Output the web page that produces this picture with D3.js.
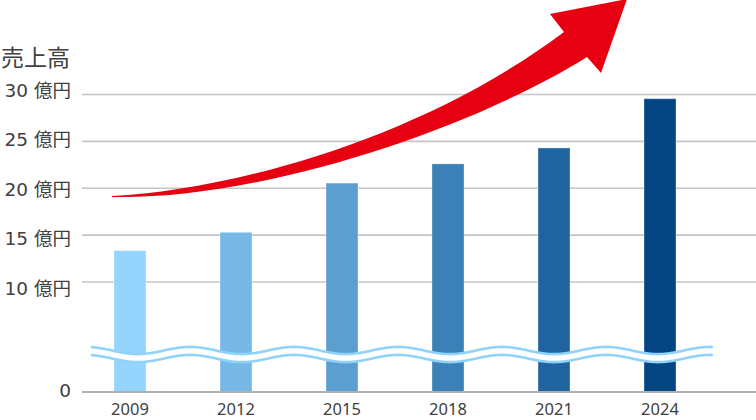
<!DOCTYPE html>
<html><head><meta charset="utf-8">
<script src="https://cdn.jsdelivr.net/npm/d3@7"></script>
<style>html,body{margin:0;padding:0;background:#fff;}svg{display:block;}</style>
</head><body>
<svg id="c" width="756" height="420"></svg>
<script>
const years = ["2009","2012","2015","2018","2021","2024"];
const sales = [13.35, 15.3, 20.55, 22.6, 24.3, 29.55];
const barColors = ["#94d5fd","#77b8e6","#5b9fd1","#3b80b6","#1f63a0","#024582"];
const gridTicks = [10, 15, 20, 25, 30];
const tickLabels = ["10 億円","15 億円","20 億円","25 億円","30 億円"];
const yTitle = "売上高";

const svg = d3.select("#c");
const font = "'Noto Sans','Noto Sans CJK JP',sans-serif";
const yFont = "'DejaVu Sans','Noto Sans CJK JP',sans-serif";
const textColor = "#404040";

const x = d3.scalePoint().domain(years).range([130, 660]);
const y = d3.scaleLinear().domain([0, 10, 30]).range([392, 282, 94.5]);
const yLab = d3.scaleLinear().domain([10, 30]).range([288.5, 90.5]);
const barW = 32;

// grid lines
svg.append("g").selectAll("line").data(gridTicks).join("line")
  .attr("x1", 82).attr("x2", 756)
  .attr("y1", d => y(d)).attr("y2", d => y(d))
  .attr("stroke", "#c4c4c4").attr("stroke-width", 1.6);

// bars
svg.append("g").selectAll("rect").data(years).join("rect")
  .attr("x", d => x(d) - barW / 2).attr("width", barW)
  .attr("y", (d, i) => y(sales[i])).attr("height", (d, i) => y(0) - y(sales[i]))
  .attr("fill", (d, i) => barColors[i])
  .attr("stroke", "rgba(255,255,255,0.35)").attr("stroke-width", 1);

// baseline
svg.append("line").attr("x1", 82).attr("x2", 756).attr("y1", y(0)).attr("y2", y(0))
  .attr("stroke", "#b0b0b0").attr("stroke-width", 2);

// break wave
const waveX0 = 91, waveX1 = 713, period = 104, amp = 3.6, crestX = 86, midY = 354.5, gap = 4;
function wavePath(offset) {
  const pts = d3.range(waveX0, waveX1 + 0.5, 1).map(px =>
    [px, midY + offset - amp * Math.cos(2 * Math.PI * (px - crestX) / period)]);
  return d3.line()(pts);
}
svg.append("path").attr("d", wavePath(0)).attr("fill", "none")
  .attr("stroke", "#fff").attr("stroke-width", 8.5);
[-gap, gap].forEach(o => {
  svg.append("path").attr("d", wavePath(o)).attr("fill", "none")
    .attr("stroke", "#8fd3fb").attr("stroke-width", 2.6);
});

// arrow
const arrow = d3.path();
arrow.moveTo(112, 196);
arrow.bezierCurveTo(230, 190, 420, 140, 564, 32);
arrow.lineTo(550, 14);
arrow.lineTo(627, -1);
arrow.lineTo(601, 73);
arrow.lineTo(587, 57);
arrow.bezierCurveTo(470, 130, 260, 200, 112, 197);
arrow.closePath();
svg.append("path").attr("d", arrow.toString()).attr("fill", "#e60012");

// y labels
svg.append("g").selectAll("text").data(gridTicks).join("text")
  .attr("x", 71).attr("y", d => yLab(d)).attr("dy", "0.35em")
  .attr("text-anchor", "end").attr("font-family", yFont).attr("font-size", 18.5)
  .attr("fill", textColor).text((d, i) => tickLabels[i]);
svg.append("text").attr("x", 71).attr("y", 390.5).attr("dy", "0.35em")
  .attr("text-anchor", "end").attr("font-family", yFont).attr("font-size", 18.5)
  .attr("fill", textColor).text("0");
svg.append("text").attr("x", 1).attr("y", 66)
  .attr("font-family", font).attr("font-size", 23)
  .attr("fill", textColor).text(yTitle);

// x labels
svg.append("g").selectAll("text").data(years).join("text")
  .attr("x", d => x(d)).attr("y", 415)
  .attr("text-anchor", "middle").attr("font-family", font).attr("font-size", 16.5)
  .attr("fill", textColor).text(d => d);
</script>
</body></html>
